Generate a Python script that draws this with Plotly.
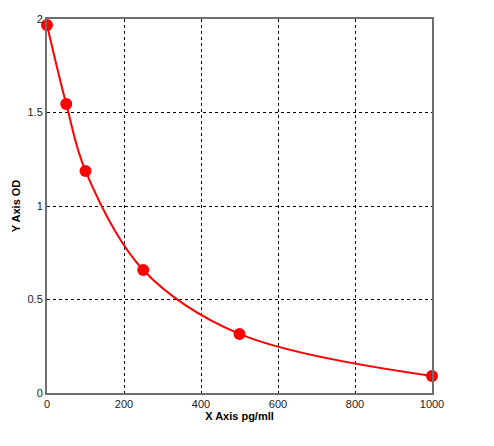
import plotly.graph_objects as go

conc = [0, 50, 100, 250, 500, 1000]
od = [1.968, 1.545, 1.187, 0.658, 0.316, 0.091]
x_ticks = [0, 200, 400, 600, 800, 1000]
y_ticks = [0, 0.5, 1, 1.5, 2]

fig = go.Figure()
fig.add_trace(go.Scatter(
    x=conc, y=od, mode="lines+markers",
    line=dict(color="#ff0000", width=2, shape="spline", smoothing=1.0),
    marker=dict(color="#ff0000", size=12, symbol="circle"),
    cliponaxis=False, showlegend=False,
))

axis_common = dict(
    showline=True, linecolor="#6e6e6e", linewidth=2, mirror=True,
    showgrid=True, gridcolor="#000000", gridwidth=1, griddash="3px,3px",
    zeroline=False, ticks="", automargin=False,
    tickfont=dict(family="Arial", size=11, color="#222"),
)

fig.update_layout(
    width=494, height=446,
    margin=dict(l=39, r=70, t=11, b=61),
    paper_bgcolor="white", plot_bgcolor="white",
    xaxis=dict(range=[0, 1000], tickvals=x_ticks, ticktext=[str(v) for v in x_ticks],
               title=dict(text="<b>X Axis pg/mll</b>", font=dict(family="Arial", size=11, color="#000"), standoff=2),
               **axis_common),
    yaxis=dict(range=[0, 2], tickvals=y_ticks, ticktext=["0", "0.5", "1", "1.5", "2"],
               title=dict(text="<b>Y Axis OD</b>", font=dict(family="Arial", size=11, color="#000"), standoff=5),
               **axis_common),
)
fig.write_html("out.html")
